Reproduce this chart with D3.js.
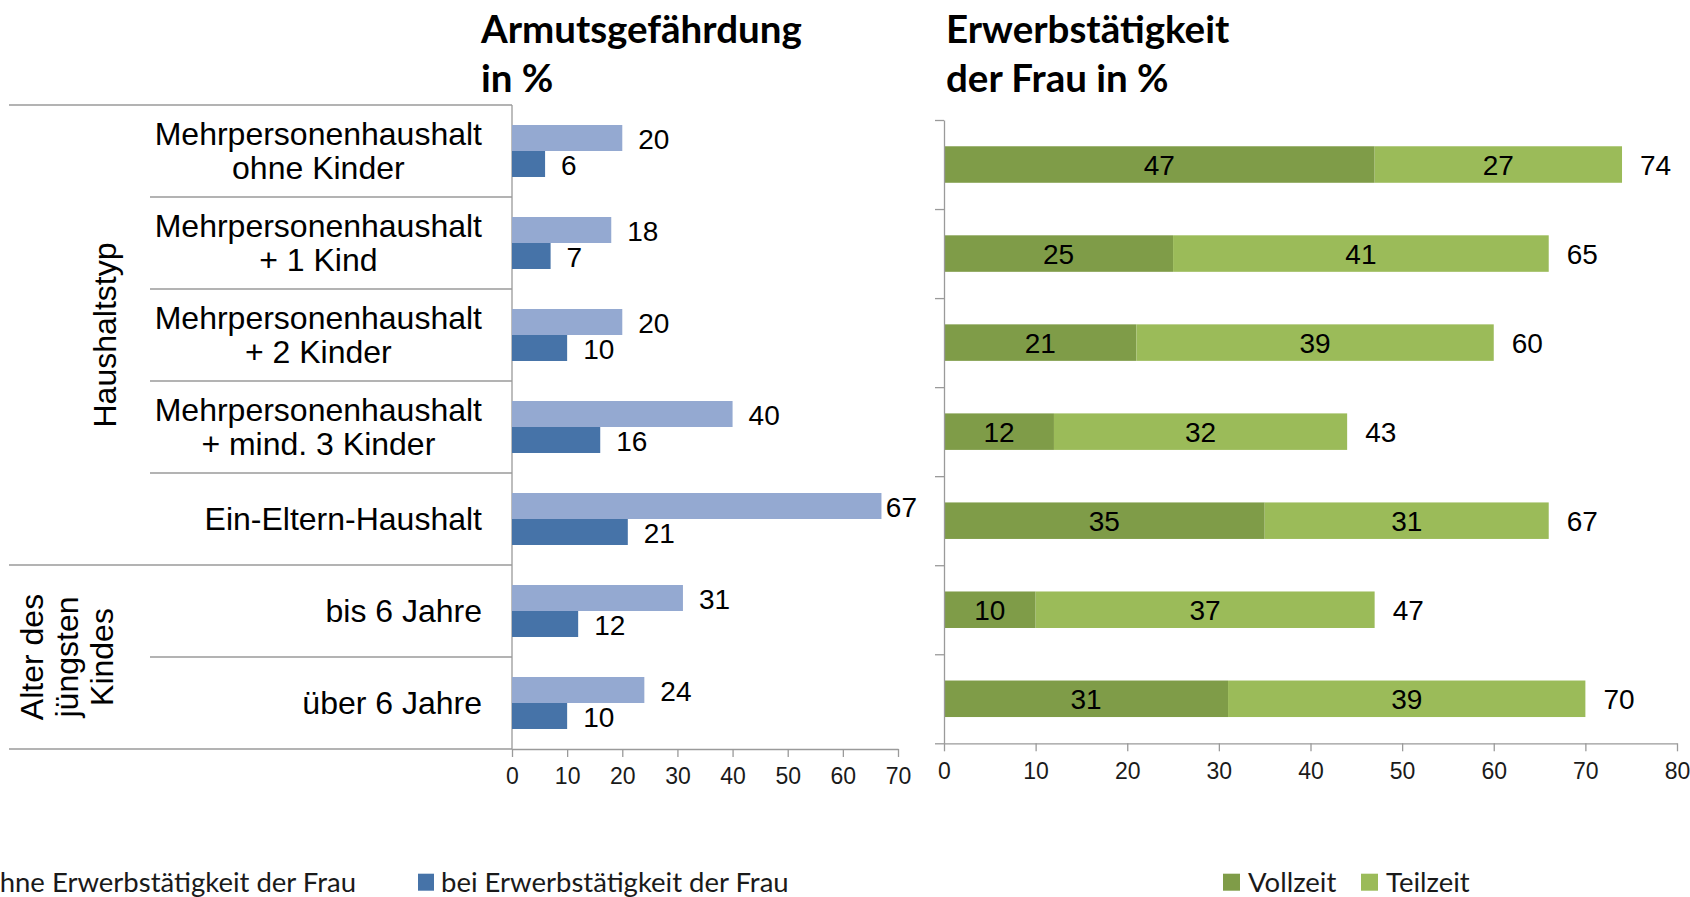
<!DOCTYPE html>
<html>
<head>
<meta charset="utf-8">
<script src="https://cdn.jsdelivr.net/npm/d3@7"></script>
<style>
    body { margin: 0; background: #fff; }
    svg { display: block; }
</style>
</head>
<body>
<div id="chart"></div>
<script>
const categories = [
    "Mehrpersonenhaushalt\nohne Kinder",
    "Mehrpersonenhaushalt\n+ 1 Kind",
    "Mehrpersonenhaushalt\n+ 2 Kinder",
    "Mehrpersonenhaushalt\n+ mind. 3 Kinder",
    "Ein-Eltern-Haushalt",
    "bis 6 Jahre",
    "über 6 Jahre"
];
const groupLabels = ["Haushaltstyp", "Alter des\njüngsten\nKindes"];
const groupSizes = [5, 2];

// Armutsgefährdung in %
const ohneErwerb = [20, 18, 20, 40, 67, 31, 24];
const beiErwerb = [6, 7, 10, 16, 21, 12, 10];

// Erwerbstätigkeit der Frau in %
const vollzeit = [47, 25, 21, 12, 35, 10, 31];
const teilzeit = [27, 41, 39, 32, 31, 37, 39];
const gesamt = [74, 65, 60, 43, 67, 47, 70];

const leftTicks = [0, 10, 20, 30, 40, 50, 60, 70];
const rightTicks = [0, 10, 20, 30, 40, 50, 60, 70, 80];
const titleLeft = ["Armutsgefährdung", "in %"];
const titleRight = ["Erwerbstätigkeit", "der Frau in %"];
const legendLeft = ["ohne Erwerbstätigkeit der Frau", "bei Erwerbstätigkeit der Frau"];
const legendRight = ["Vollzeit", "Teilzeit"];

const width = 1690;
const height = 897;
const lineColor = "#9a9a9a";
const arial = "'Liberation Sans', Arial, sans-serif";
const calibri = "Lato, 'Open Sans', sans-serif";
const blue = { ohne: "#94a9d1", bei: "#4673a8" };
const green = { vollzeit: "#7f9c48", teilzeit: "#9bbb59" };

const svg = d3.select("#chart")
    .append("svg")
    .attr("width", width)
    .attr("height", height);

// ---------- left panel ----------
const xL = d3.scaleLinear().domain([0, 70]).range([512, 898]);
const yL = d3.scaleBand()
    .domain(d3.range(categories.length))
    .range([105, 749])
    .paddingInner(0.435)
    .paddingOuter(0.2175);
const yLsub = d3.scaleBand().domain(["ohne", "bei"]).range([0, yL.bandwidth()]);
const rowEdge = i => yL(0) - yL.paddingOuter() * yL.step() + i * yL.step();

// table lines
const groupEdges = [0];
groupSizes.forEach(s => groupEdges.push(groupEdges[groupEdges.length - 1] + s));

svg.append("g")
    .selectAll("line")
    .data(d3.range(categories.length + 1))
    .join("line")
    .attr("x1", i => groupEdges.includes(i) ? 9 : 150)
    .attr("x2", xL(0))
    .attr("y1", i => rowEdge(i))
    .attr("y2", i => rowEdge(i))
    .attr("stroke", lineColor)
    .attr("stroke-width", 1.3);

svg.append("line")
    .attr("x1", xL(0)).attr("x2", xL(0))
    .attr("y1", rowEdge(0)).attr("y2", rowEdge(categories.length))
    .attr("stroke", lineColor)
    .attr("stroke-width", 1.3);

// category labels: block right-aligned, lines centred inside the block
const catG = svg.append("g")
    .attr("font-family", arial)
    .attr("font-size", 32)
    .attr("fill", "#000");

categories.forEach((c, i) => {
    const lines = c.split("\n");
    const cy = yL(i) + yL.bandwidth() / 2;
    const lineH = 34.5;
    const texts = catG.selectAll(null)
        .data(lines)
        .join("text")
        .attr("y", (d, k) => cy + 11 + (k - (lines.length - 1) / 2) * lineH)
        .attr("text-anchor", "middle")
        .text(d => d);
    const maxW = d3.max(texts.nodes(), n => n.getComputedTextLength());
    texts.attr("x", 482 - maxW / 2);
});

// group labels (rotated)
const groupX = [[116], [43, 78, 113]];
groupLabels.forEach((g, gi) => {
    const lines = g.split("\n");
    const cy = (rowEdge(groupEdges[gi]) + rowEdge(groupEdges[gi + 1])) / 2;
    svg.append("g")
        .selectAll("text")
        .data(lines)
        .join("text")
        .attr("transform", (d, k) => `translate(${groupX[gi][k]},${cy}) rotate(-90)`)
        .attr("text-anchor", "middle")
        .attr("font-family", arial)
        .attr("font-size", 32)
        .text(d => d);
});

// bars
const leftSeries = [
    { key: "ohne", values: ohneErwerb },
    { key: "bei", values: beiErwerb }
];
leftSeries.forEach(s => {
    svg.append("g")
        .selectAll("rect")
        .data(s.values)
        .join("rect")
        .attr("x", xL(0))
        .attr("y", (d, i) => yL(i) + yLsub(s.key))
        .attr("width", d => xL(d) - xL(0))
        .attr("height", yLsub.bandwidth())
        .attr("fill", blue[s.key]);

    svg.append("g")
        .selectAll("text")
        .data(s.values)
        .join("text")
        .attr("y", (d, i) => yL(i) + yLsub(s.key) + yLsub.bandwidth() / 2)
        .attr("dy", "0.38em")
        .attr("font-family", arial)
        .attr("font-size", 28)
        .text(d => d)
        // keep labels inside the plot area (like the 67 label)
        .attr("x", function(d) {
            return Math.min(xL(d) + 16, 917 - this.getComputedTextLength());
        });
});

// x axis
const axL = svg.append("g")
    .attr("transform", `translate(0,${rowEdge(categories.length)})`)
    .call(d3.axisBottom(xL).tickValues(leftTicks).tickSize(8).tickSizeOuter(0).tickPadding(11));

// ---------- right panel ----------
const xR = d3.scaleLinear().domain([0, 80]).range([944, 1677]);
const yR = d3.scaleBand()
    .domain(d3.range(categories.length))
    .range([120, 743.3])
    .paddingInner(0.59)
    .paddingOuter(0.295);
const yRedge = d3.scaleLinear().domain([0, categories.length]).range([120, 743.3]);

const stackData = categories.map((c, i) => ({ vollzeit: vollzeit[i], teilzeit: teilzeit[i] }));
const stacked = d3.stack().keys(["vollzeit", "teilzeit"])(stackData);

stacked.forEach(layer => {
    svg.append("g")
        .selectAll("rect")
        .data(layer)
        .join("rect")
        .attr("x", d => xR(d[0]))
        .attr("y", (d, i) => yR(i))
        .attr("width", d => xR(d[1]) - xR(d[0]))
        .attr("height", yR.bandwidth())
        .attr("fill", green[layer.key]);

    svg.append("g")
        .selectAll("text")
        .data(layer)
        .join("text")
        .attr("x", d => xR((d[0] + d[1]) / 2))
        .attr("y", (d, i) => yR(i) + yR.bandwidth() / 2)
        .attr("dy", "0.37em")
        .attr("text-anchor", "middle")
        .attr("font-family", arial)
        .attr("font-size", 28)
        .text(d => d[1] - d[0]);
});

// totals
svg.append("g")
    .selectAll("text")
    .data(stacked[1])
    .join("text")
    .attr("x", d => xR(d[1]) + 18)
    .attr("y", (d, i) => yR(i) + yR.bandwidth() / 2)
    .attr("dy", "0.37em")
    .attr("font-family", arial)
    .attr("font-size", 28)
    .text((d, i) => gesamt[i]);

const axR = svg.append("g")
    .attr("transform", `translate(0,${yRedge(categories.length)})`)
    .call(d3.axisBottom(xR).tickValues(rightTicks).tickSize(8).tickSizeOuter(0).tickPadding(11));

const axRy = svg.append("g")
    .attr("transform", `translate(${xR(0)},0)`)
    .call(d3.axisLeft(yRedge).ticks(categories.length).tickSize(9).tickSizeOuter(0).tickFormat(""));

[axL, axR, axRy].forEach(a => {
    a.selectAll("path, line").attr("stroke", lineColor).attr("stroke-width", 1.3);
    a.selectAll("text")
        .attr("font-family", arial)
        .attr("font-size", 23)
        .attr("fill", "#1a1a1a");
});

// ---------- titles ----------
[[titleLeft, 481], [titleRight, 946]].forEach(([t, x]) => {
    svg.append("g")
        .selectAll("text")
        .data(t)
        .join("text")
        .attr("x", x)
        .attr("y", (d, k) => 43 + k * 48.6)
        .attr("font-family", calibri)
        .attr("font-weight", "bold")
        .attr("font-size", 38.5)
        .text(d => d);
});

// ---------- legends ----------
const legBase = 891.7;
const legFont = 27.5;

// left legend: second item starts at 418, first item ends at 356 (runs off the left edge as in the original)
const lg = svg.append("g").attr("font-family", calibri).attr("font-size", legFont).attr("fill", "#1a1a1a");
const t0 = lg.append("text").attr("x", 356).attr("y", legBase).attr("text-anchor", "end").text(legendLeft[0]);
const w0 = t0.node().getComputedTextLength();
lg.append("rect").attr("x", 356 - w0 - 23).attr("y", legBase - 18).attr("width", 16).attr("height", 17).attr("fill", blue.ohne);
lg.append("rect").attr("x", 418).attr("y", legBase - 18).attr("width", 16).attr("height", 17).attr("fill", blue.bei);
lg.append("text").attr("x", 441).attr("y", legBase).text(legendLeft[1]);

// right legend
const rg = svg.append("g").attr("font-family", calibri).attr("font-size", legFont).attr("fill", "#1a1a1a");
const rItems = [
    { label: legendRight[0], color: green.vollzeit, x: 1223 },
    { label: legendRight[1], color: green.teilzeit, x: 1361 }
];
rItems.forEach(it => {
    rg.append("rect").attr("x", it.x).attr("y", legBase - 18).attr("width", 17).attr("height", 17).attr("fill", it.color);
    rg.append("text").attr("x", it.x + 25).attr("y", legBase).text(it.label);
});
</script>
</body>
</html>
